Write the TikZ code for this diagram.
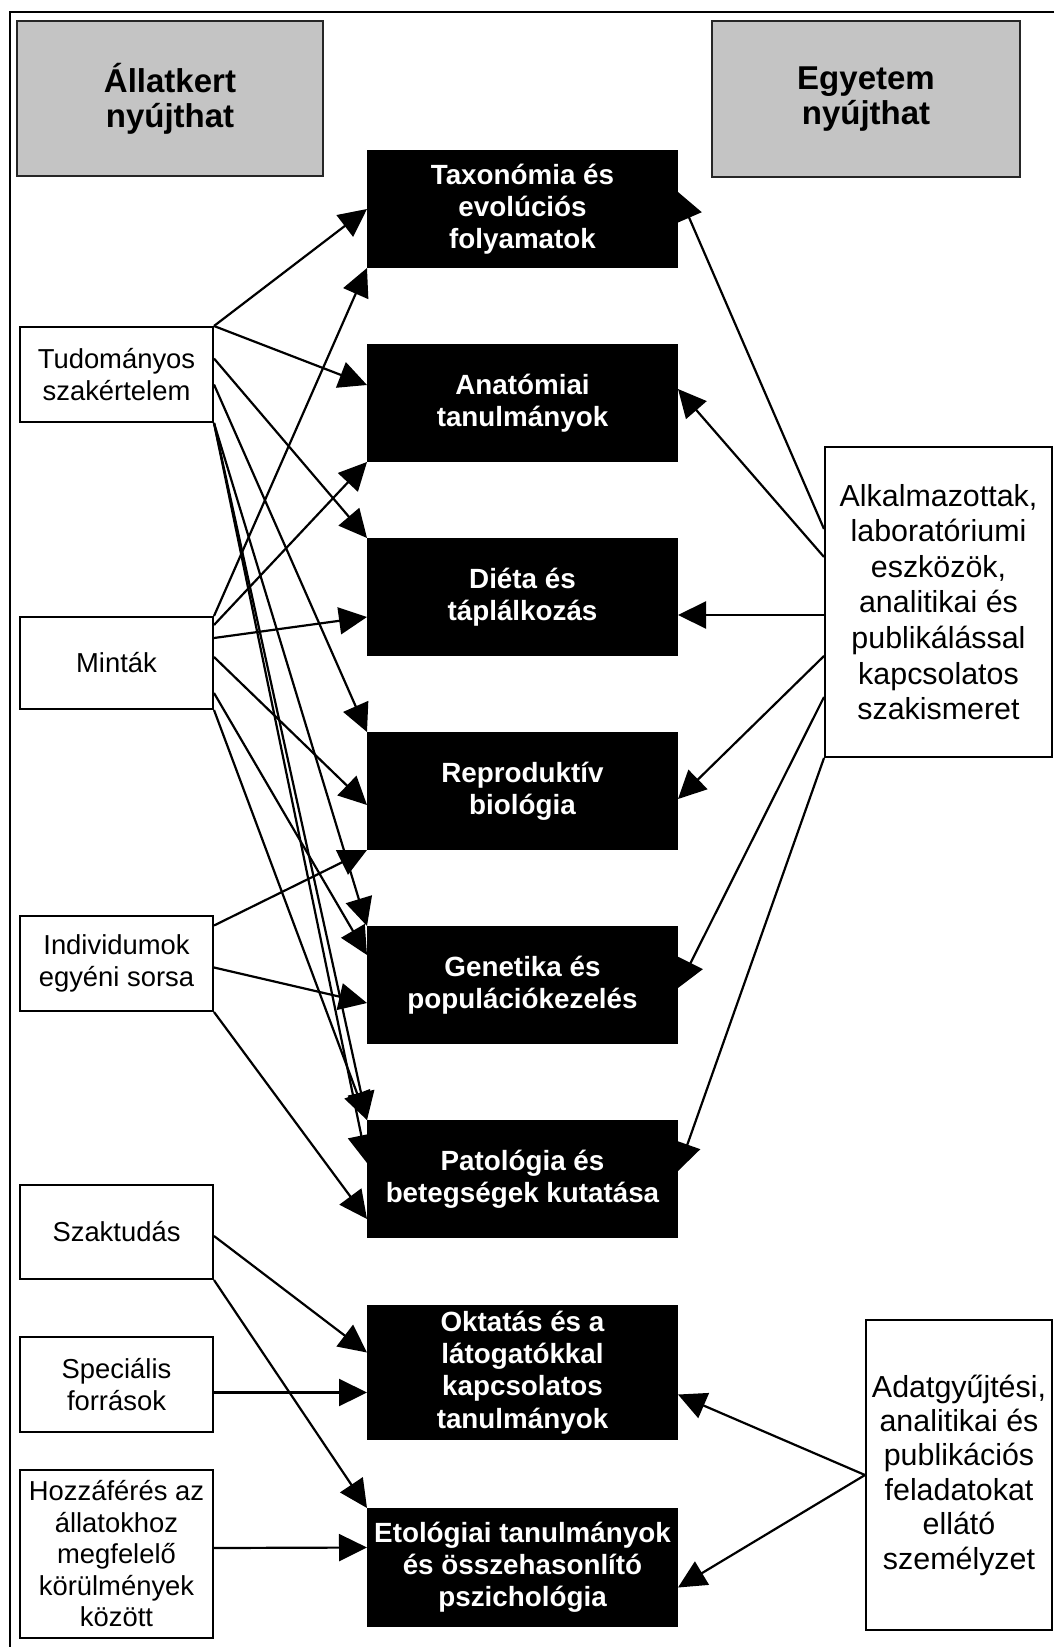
\documentclass[tikz,border=0pt]{standalone}
\usepackage{fontspec}
\setmainfont{Liberation Sans}
\usetikzlibrary{positioning, arrows.meta}

\tikzset{
  header/.style={draw=black!85, line width=1.3pt, fill=black!23, minimum width=153pt, minimum height=77.5pt, align=center, font=\fontsize{16.5}{17.5}\selectfont\bfseries},
  topic/.style={fill=black, text=white, minimum width=155.5pt, minimum height=59pt, inner sep=0pt, outer sep=0pt, align=center, font=\fontsize{13.9}{16.1}\selectfont\bfseries},
  source/.style={draw, line width=1pt, fill=white, minimum width=96.5pt, inner sep=0pt, align=center, font=\fontsize{13.7}{15.75}\selectfont},
  staff/.style={draw, line width=1pt, fill=white, inner sep=0pt, align=center},
  arr/.style={-{Triangle[length=14pt,width=13.5pt]}, line width=1.1pt},
}

\begin{document}
\begin{tikzpicture}[x=0.5pt, y=-0.5pt]
        \useasboundingbox (0,0) rectangle (1054,1647);
        \draw[line width=1.4pt] (1054,12) -- (10,12) -- (10,1647);

        \node[header] (zoo) at (170,98.5) {Állatkert\\nyújthat};
        \node[header, minimum width=154pt, minimum height=78pt] (uni) at (866,99) {Egyetem\\nyújthat};

        \node[topic] (tax) at (522.5,209) {Taxonómia és\\evolúciós\\folyamatok};
        \node[topic, below=38pt of tax] (anat) {Anatómiai\\tanulmányok};
        \node[topic, below=38pt of anat] (diet) {Diéta és\\táplálkozás};
        \node[topic, below=38pt of diet] (repro) {Reproduktív\\biológia};
        \node[topic, below=38pt of repro] (gen) {Genetika és\\populációkezelés};
        \node[topic, below=38pt of gen] (pat) {Patológia és\\betegségek kutatása};
        \node[topic, below=33.5pt of pat, minimum height=67.5pt] (edu) {Oktatás és a\\látogatókkal\\kapcsolatos\\tanulmányok};
        \node[topic, below=34pt of edu, minimum height=59.5pt] (etho) {Etológiai tanulmányok\\és összehasonlító\\pszichológia};

        \node[source, minimum height=47.5pt] (expert) at (116.5,374.5) {Tudományos\\szakértelem};
        \node[source, minimum height=46pt] (sample) at (116.5,663) {Minták};
        \node[source, minimum height=47.5pt] (indiv) at (116.5,963.5) {Individumok\\egyéni sorsa};
        \node[source, minimum height=47pt] (skill) at (116.5,1232) {Szaktudás};
        \node[source, minimum height=47.5pt] (res) at (116.5,1384.5) {Speciális\\források};
        \node[source, minimum height=84pt] (access) at (116.5,1554) {Hozzáférés az\\állatokhoz\\megfelelő\\körülmények\\között};

        \node[staff, minimum width=113.5pt, minimum height=155pt, font=\fontsize{15.2}{17.8}\selectfont] (lab) at (938.5,602) {Alkalmazottak,\\laboratóriumi\\eszközök,\\analitikai és\\publikálással\\kapcsolatos\\szakismeret};
        \node[staff, minimum width=93pt, minimum height=155pt, font=\fontsize{15.2}{17.2}\selectfont] (crew) at (959,1475) {Adatgyűjtési,\\analitikai és\\publikációs\\feladatokat\\ellátó\\személyzet};

        % zoo side
        \draw[arr] (expert.north east) -- (tax.west);
        \draw[arr] (expert.north east) -- ([yshift=9pt]anat.west);
        \draw[arr] ([yshift=8pt]expert.east) -- (diet.north west);
        \draw[arr] ([yshift=-5pt]expert.east) -- (repro.north west);
        \draw[arr] (expert.south east) -- (gen.north west);
        \draw[arr] (expert.south east) -- (pat.north west);
        \draw[arr] (expert.south east) -- ([yshift=8pt]pat.west);

        \draw[arr] (sample.north east) -- (tax.south west);
        \draw[arr] ([yshift=19pt]sample.east) -- (anat.south west);
        \draw[arr] ([yshift=12.5pt]sample.east) -- ([yshift=-10pt]diet.west);
        \draw[arr] ([yshift=3pt]sample.east) -- ([yshift=-7pt]repro.west);
        \draw[arr] ([yshift=-15pt]sample.east) -- ([yshift=15pt]gen.west);
        \draw[arr] (sample.south east) -- (pat.north west);

        \draw[arr] ([yshift=19pt]indiv.east) -- (repro.south west);
        \draw[arr] ([yshift=-2pt]indiv.east) -- ([yshift=-9pt]gen.west);
        \draw[arr] (indiv.south east) -- ([yshift=-20pt]pat.west);

        \draw[arr] ([yshift=-2pt]skill.east) -- ([yshift=10pt]edu.west);
        \draw[arr] (skill.south east) -- (etho.north west);
        \draw[arr] ([yshift=-4pt]res.east) -- ([yshift=-10pt]edu.west);
        \draw[arr] ([yshift=3pt]access.east) -- ([yshift=10pt]etho.west);

        % university side
        \draw[arr] ([yshift=36.5pt]lab.west) -- ([yshift=8.5pt]tax.east);
        \draw[arr] ([yshift=22.5pt]lab.west) -- ([yshift=7pt]anat.east);
        \draw[arr] ([yshift=-6.5pt]lab.west) -- ([yshift=-9pt]diet.east);
        \draw[arr] ([yshift=-27pt]lab.west) -- ([yshift=-4pt]repro.east);
        \draw[arr] ([yshift=-47.5pt]lab.west) -- ([yshift=-1.5pt]gen.east);
        \draw[arr] (lab.south west) -- ([yshift=4pt]pat.east);
        \draw[arr] (crew.west) -- ([yshift=-11pt]edu.east);
        \draw[arr] (crew.west) -- ([yshift=-10pt]etho.east);
\end{tikzpicture}
\end{document}
